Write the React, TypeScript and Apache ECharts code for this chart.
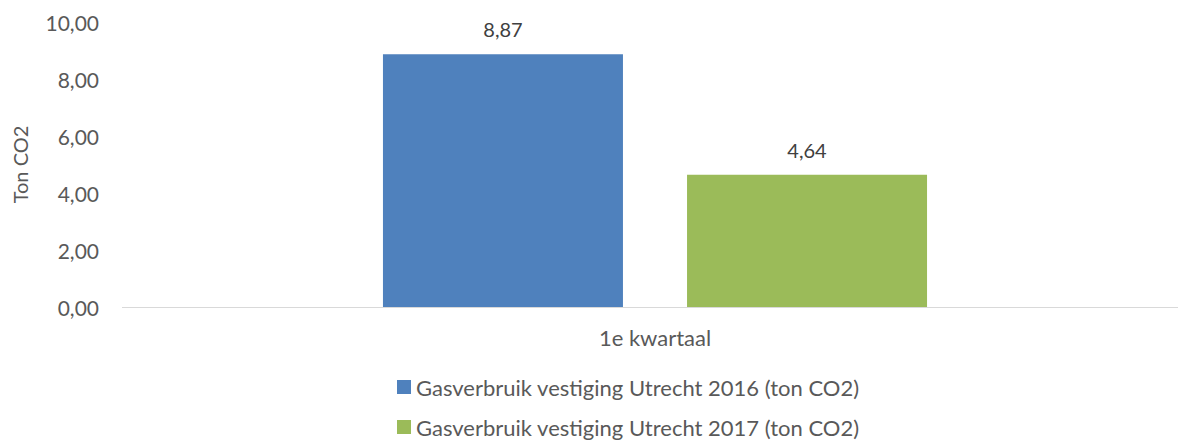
import React, { useEffect, useRef } from "react";
import * as echarts from "echarts";

const categories = ["1e kwartaal"];
const seriesNames = [
  "Gasverbruik vestiging Utrecht 2016 (ton CO2)",
  "Gasverbruik vestiging Utrecht 2017 (ton CO2)",
];
const values2016 = [8.87];
const values2017 = [4.64];
const colors = ["#4F81BD", "#9BBB59"];
const yAxisName = "Ton CO2";

const FONT = "Lato, 'Open Sans', sans-serif";
const fmt = (v: number) => v.toFixed(2).replace(".", ",");

export default function App() {
  const ref = useRef<HTMLDivElement>(null);
  useEffect(() => {
    const chart = echarts.init(ref.current!, null, { renderer: "svg" });
    const legendBase = {
      orient: "vertical",
      left: 397,
      itemWidth: 14,
      itemHeight: 14,
      itemGap: 8,
      icon: "rect",
      padding: 0,
      textStyle: { fontFamily: FONT, fontSize: 22, lineHeight: 19, color: "#595959" },
    };
    chart.setOption({
      animation: false,
      textStyle: { fontFamily: FONT },
      grid: { left: 132, top: 22, right: 0, bottom: 134, containLabel: false },
      legend: [
        { ...legendBase, top: 376, data: [seriesNames[0]] },
        { ...legendBase, top: 416, data: [seriesNames[1]] },
      ],
      graphic: [
        {
          type: "line",
          shape: { x1: 122, y1: 307.5, x2: 132, y2: 307.5 },
          style: { stroke: "#D9D9D9", lineWidth: 1 },
          silent: true,
        },
      ],
      xAxis: {
        type: "category",
        data: categories,
        axisLine: { lineStyle: { color: "#D9D9D9", width: 1 } },
        axisTick: { show: false },
        axisLabel: { fontFamily: FONT, fontSize: 22, color: "#595959", margin: 19 },
      },
      yAxis: {
        type: "value",
        min: 0,
        max: 10,
        interval: 2,
        name: yAxisName,
        nameLocation: "middle",
        nameGap: 102,
        nameRotate: 90,
        nameTextStyle: { fontFamily: FONT, fontSize: 20, color: "#595959" },
        axisLine: { show: false },
        axisTick: { show: false },
        splitLine: { show: false },
        axisLabel: {
          fontFamily: FONT,
          fontSize: 21,
          color: "#595959",
          margin: 33,
          formatter: (v: number) => fmt(v),
        },
      },
      series: [
        {
          name: seriesNames[0],
          type: "bar",
          data: values2016,
          barWidth: 240,
          barGap: "26.7%",
          itemStyle: { color: colors[0] },
          label: {
            show: true,
            position: "top",
            distance: 15,
            fontFamily: FONT,
            fontSize: 20,
            color: "#404040",
            formatter: (p: any) => fmt(p.value),
          },
        },
        {
          name: seriesNames[1],
          type: "bar",
          data: values2017,
          barWidth: 240,
          barGap: "26.7%",
          itemStyle: { color: colors[1] },
          label: {
            show: true,
            position: "top",
            distance: 15,
            fontFamily: FONT,
            fontSize: 20,
            color: "#404040",
            formatter: (p: any) => fmt(p.value),
          },
        },
      ],
    });
    return () => chart.dispose();
  }, []);
  return (
    <div
      ref={ref}
      style={{ position: "fixed", left: 0, top: 0, width: 1178, height: 441, background: "#fff" }}
    />
  );
}
